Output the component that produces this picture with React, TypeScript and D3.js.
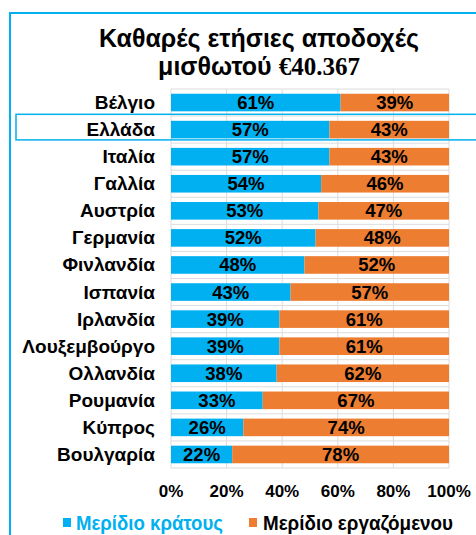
import * as React from 'react';
import * as d3 from 'd3';

const countries = [
  'Βέλγιο', 'Ελλάδα', 'Ιταλία', 'Γαλλία', 'Αυστρία', 'Γερμανία', 'Φινλανδία',
  'Ισπανία', 'Ιρλανδία', 'Λουξεμβούργο', 'Ολλανδία', 'Ρουμανία', 'Κύπρος', 'Βουλγαρία',
];
const stateShare = [61, 57, 57, 54, 53, 52, 48, 43, 39, 39, 38, 33, 26, 22];
const workerShare = [39, 43, 43, 46, 47, 48, 52, 57, 61, 61, 62, 67, 74, 78];
const xTicks = [0, 20, 40, 60, 80, 100];
const highlighted = 'Ελλάδα';

const seriesNames = ['Μερίδιο κράτους', 'Μερίδιο εργαζόμενου'];
const blue = '#00b0f0';
const orange = '#ed7d31';

const width = 476;
const height = 535;
const left = 171;
const right = 449;
const top = 89;
const bottom = 468;

const sans = '"Liberation Sans", Arial, sans-serif';

const App = () => {
  const x = d3.scaleLinear().domain([0, 100]).range([left, right]);
  const y = d3.scaleBand<string>()
    .domain(countries)
    .range([top, bottom])
    .paddingInner(0.35)
    .paddingOuter(0.175);
  const step = y.step();

  const rows = countries.map((c, i) => ({ c, s: stateShare[i], w: workerShare[i] }));

  return (
    <div style={{ position: 'absolute', left: 0, top: 0 }}>
      <svg width={width} height={height} style={{ display: 'block', background: '#fff' }}>
        {/* outer frame */}
        <rect x={10} y={13} width={width + 20} height={height + 20}
          fill="none" stroke={blue} strokeWidth={2} />

        {/* title */}
        <text x={259} y={47} textAnchor="middle" fontFamily={sans} fontWeight="bold" fontSize={25} fill="#000">
          Καθαρές ετήσιες αποδοχές
        </text>
        <text x={259} y={75} textAnchor="middle" fontWeight="bold" fontSize={25} fill="#000">
          <tspan fontFamily={sans}>μισθωτού </tspan>
          <tspan fontFamily='"Liberation Serif", "Times New Roman", serif'>€40.367</tspan>
        </text>

        {/* gridlines */}
        <g stroke="#dcdcdc" strokeWidth={1}>
          {xTicks.map(t => (
            <line key={t} x1={x(t)} x2={x(t)} y1={top} y2={bottom} />
          ))}
          {d3.range(countries.length + 1).map(i => (
            <line key={'h' + i} x1={left} x2={right} y1={top + i * step} y2={top + i * step} />
          ))}
        </g>

        {/* bars */}
        {rows.map(r => (
          <g key={r.c}>
            <rect x={x(0)} y={y(r.c)} width={x(r.s) - x(0)} height={y.bandwidth()} fill={blue} />
            <rect x={x(r.s)} y={y(r.c)} width={x(r.s + r.w) - x(r.s)} height={y.bandwidth()} fill={orange} />
            <text x={(x(0) + x(r.s)) / 2} y={y(r.c)! + y.bandwidth() / 2 + 6.5}
              textAnchor="middle" fontFamily={sans} fontWeight="bold" fontSize={18.5} fill="#000">
              {r.s}%
            </text>
            <text x={(x(r.s) + x(r.s + r.w)) / 2} y={y(r.c)! + y.bandwidth() / 2 + 6.5}
              textAnchor="middle" fontFamily={sans} fontWeight="bold" fontSize={18.5} fill="#000">
              {r.w}%
            </text>
            <text x={155} y={y(r.c)! + y.bandwidth() / 2 + 6.5}
              textAnchor="end" fontFamily={sans} fontWeight="bold" fontSize={19} fill="#000">
              {r.c}
            </text>
          </g>
        ))}

        {/* highlight box */}
        <rect x={16} y={y(highlighted)! - 6.5} width={width} height={y.bandwidth() + 8}
          fill="none" stroke={blue} strokeWidth={1.5} />

        {/* x axis labels */}
        {xTicks.map(t => (
          <text key={t} x={x(t)} y={497} textAnchor="middle" fontFamily={sans}
            fontWeight="bold" fontSize={17} fill="#000">
            {t}%
          </text>
        ))}

        {/* legend, condensed to the reference widths */}
        <rect x={63} y={518} width={8} height={9} fill={blue} />
        <text x={76} y={529.5} fontFamily={sans} fontWeight="bold" fontSize={20}
          textLength={147} lengthAdjust="spacingAndGlyphs" fill={blue}>
          {seriesNames[0]}
        </text>
        <rect x={249} y={518} width={8} height={9} fill={orange} />
        <text x={263} y={529.5} fontFamily={sans} fontWeight="bold" fontSize={20}
          textLength={190} lengthAdjust="spacingAndGlyphs" fill="#000">
          {seriesNames[1]}
        </text>
      </svg>
    </div>
  );
};

export default App;
